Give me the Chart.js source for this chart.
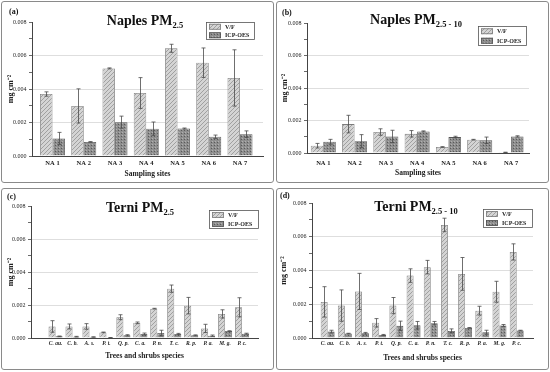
<!DOCTYPE html>
<html>
<head>
<meta charset="utf-8">
<script src="https://cdn.jsdelivr.net/npm/chart.js@4.4.0/dist/chart.umd.min.js"></script>
<style>
    body { margin: 0; background: #fff; width: 550px; height: 372px; overflow: hidden; position: relative; font-family: 'Liberation Serif', serif; }
    .panel { position: absolute; width: 273px; height: 182px; }
    .panel canvas { position: absolute; left: 0; top: 0; }
    .frame { position: absolute; left: 0; top: 0; width: 273px; height: 182px; border: 1px solid #8a8a8a; border-radius: 3px; box-sizing: border-box; pointer-events: none; }
    .tag { position: absolute; font-weight: bold; font-size: 8px; line-height: 1; color: #111; }
    .title { position: absolute; font-weight: bold; font-size: 14px; line-height: 1; white-space: nowrap; transform: translateX(-50%); color: #111; }
    .title sub { font-size: 8.5px; vertical-align: baseline; position: relative; top: 3px; }
</style>
</head>
<body>
<div class="panel" id="pa" style="left:1px;top:1px">
    <canvas id="chartA" width="273" height="182"></canvas>
    <div class="frame"></div>
    <div class="tag" style="left:8px;top:7px">(a)</div>
    <div class="title" style="left:144px;top:13px">Naples PM<sub>2.5</sub></div>
</div>
<div class="panel" id="pb" style="left:276px;top:1px">
    <canvas id="chartB" width="273" height="182"></canvas>
    <div class="frame"></div>
    <div class="tag" style="left:6px;top:8px">(b)</div>
    <div class="title" style="left:140px;top:12px">Naples PM<sub>2.5 - 10</sub></div>
</div>
<div class="panel" id="pc" style="left:1px;top:188px">
    <canvas id="chartC" width="273" height="182"></canvas>
    <div class="frame"></div>
    <div class="tag" style="left:6px;top:5px">(c)</div>
    <div class="title" style="left:139px;top:13px">Terni PM<sub>2.5</sub></div>
</div>
<div class="panel" id="pd" style="left:276px;top:188px">
    <canvas id="chartD" width="273" height="182"></canvas>
    <div class="frame"></div>
    <div class="tag" style="left:4px;top:4px">(d)</div>
    <div class="title" style="left:140px;top:12px">Terni PM<sub>2.5 - 10</sub></div>
</div>

<script>
// categories
const sites = ['NA 1', 'NA 2', 'NA 3', 'NA 4', 'NA 5', 'NA 6', 'NA 7'];
const species = ['C. au.', 'C. b.', 'A. s.', 'P. t.', 'Q. p.', 'C. a.', 'P. n.', 'T. c.', 'R. p.', 'P. a.', 'M. g.', 'P. c.'];
const seriesNames = ['V/F', 'ICP-OES'];
const yTickLabels = ['0.000', '0.002', '0.004', '0.006', '0.008'];

// (a) Naples PM2.5
const naplesFineVF = [0.00370, 0.00299, 0.00523, 0.00376, 0.00643, 0.00557, 0.00466];
const naplesFineVFErr = [0.00013, 0.00102, 0.00003, 0.00092, 0.00024, 0.00088, 0.00168];
const naplesFineICP = [0.00105, 0.00084, 0.00202, 0.00163, 0.00164, 0.00115, 0.00130];
const naplesFineICPErr = [0.00036, 0.00002, 0.00036, 0.00040, 0.00003, 0.00010, 0.00020];

// (b) Naples PM2.5-10
const naplesCoarseVF = [0.00045, 0.00178, 0.00129, 0.00118, 0.00037, 0.00082, 0.00004];
const naplesCoarseVFErr = [0.00014, 0.00054, 0.00020, 0.00020, 0.00002, 0.00002, 0.00001];
const naplesCoarseICP = [0.00069, 0.00073, 0.00102, 0.00133, 0.00098, 0.00078, 0.00102];
const naplesCoarseICPErr = [0.00015, 0.00040, 0.00038, 0.00003, 0.00005, 0.00020, 0.00004];

// (c) Terni PM2.5
const terniFineVF = [0.00070, 0.00070, 0.00070, 0.00034, 0.00126, 0.00092, 0.00178, 0.00299, 0.00196, 0.00058, 0.00146, 0.00186];
const terniFineVFErr = [0.00035, 0.00015, 0.00017, 0.00002, 0.00015, 0.00005, 0.00002, 0.00022, 0.00050, 0.00025, 0.00025, 0.00058];
const terniFineICP = [0.00010, 0.00008, 0.00006, 0.00002, 0.00016, 0.00024, 0.00030, 0.00024, 0.00016, 0.00014, 0.00042, 0.00026];
const terniFineICPErr = [0.00002, 0.00002, 0.00001, 0.00001, 0.00004, 0.00006, 0.00017, 0.00004, 0.00003, 0.00004, 0.00002, 0.00003];

// (d) Terni PM2.5-10
const terniCoarseVF = [0.00214, 0.00192, 0.00276, 0.00090, 0.00192, 0.00370, 0.00420, 0.00670, 0.00380, 0.00162, 0.00274, 0.00510];
const terniCoarseVFErr = [0.00090, 0.00093, 0.00107, 0.00025, 0.00048, 0.00040, 0.00040, 0.00040, 0.00097, 0.00026, 0.00062, 0.00048];
const terniCoarseICP = [0.00038, 0.00026, 0.00028, 0.00018, 0.00072, 0.00076, 0.00088, 0.00042, 0.00060, 0.00034, 0.00074, 0.00044];
const terniCoarseICPErr = [0.00008, 0.00002, 0.00005, 0.00003, 0.00028, 0.00022, 0.00010, 0.00012, 0.00002, 0.00012, 0.00006, 0.00002];

const serif = "'Liberation Serif', serif";

// hatched fill for V/F, stippled fill for ICP-OES
const makeHatch = () => {
    const c = document.createElement('canvas');
    c.width = 4; c.height = 4;
    const g = c.getContext('2d');
    g.fillStyle = '#d4d4d4';
    g.fillRect(0, 0, 4, 4);
    g.strokeStyle = '#9a9a9a';
    g.lineWidth = 0.9;
    g.beginPath();
    g.moveTo(0, 4); g.lineTo(4, 0);
    g.moveTo(-1, 1); g.lineTo(1, -1);
    g.moveTo(3, 5); g.lineTo(5, 3);
    g.stroke();
    return g.createPattern(c, 'repeat');
};
const makeDots = () => {
    const c = document.createElement('canvas');
    c.width = 3; c.height = 3;
    const g = c.getContext('2d');
    g.fillStyle = '#8e8e8e';
    g.fillRect(0, 0, 3, 3);
    g.fillStyle = '#5a5a5a';
    g.fillRect(0, 0, 1, 1);
    g.fillStyle = '#b0b0b0';
    g.fillRect(1, 2, 1, 1);
    return g.createPattern(c, 'repeat');
};
const hatch = makeHatch();
const dots = makeDots();

const errorBarsPlugin = {
    id: 'errorBars',
    afterDatasetsDraw(chart) {
        const { ctx } = chart;
        const yScale = chart.scales.y;
        ctx.save();
        ctx.strokeStyle = '#4a4a4a';
        ctx.lineWidth = 0.8;
        chart.data.datasets.forEach((ds, di) => {
            const meta = chart.getDatasetMeta(di);
            meta.data.forEach((bar, i) => {
                const v = ds.data[i].y;
                const e = ds.errors[i];
                const top = yScale.getPixelForValue(v + e);
                const bot = yScale.getPixelForValue(Math.max(v - e, 0));
                const x = Math.round(bar.x) + 0.5;
                ctx.beginPath();
                ctx.moveTo(x, top); ctx.lineTo(x, bot);
                ctx.moveTo(x - 2, top); ctx.lineTo(x + 2, top);
                ctx.moveTo(x - 2, bot); ctx.lineTo(x + 2, bot);
                ctx.stroke();
            });
        });
        ctx.restore();
    }
};

const boxLegendPlugin = {
    id: 'boxLegend',
    afterDraw(chart, args, opts) {
        const { ctx } = chart;
        const { x, y, w, h } = opts;
        ctx.save();
        ctx.fillStyle = '#fff';
        ctx.fillRect(x, y, w, h);
        ctx.strokeStyle = '#555';
        ctx.lineWidth = 0.8;
        ctx.strokeRect(x + 0.5, y + 0.5, w, h);
        const row = h / 2;
        chart.data.datasets.forEach((ds, i) => {
            const cy = y + row * i + row / 2 + 0.5;
            ctx.fillStyle = ds.backgroundColor;
            ctx.fillRect(x + 3, cy - 3, 12, 6);
            ctx.strokeStyle = ds.borderColor;
            ctx.strokeRect(x + 3.5, cy - 2.5, 11, 5);
            ctx.fillStyle = '#222';
            ctx.font = "bold 6px " + serif;
            ctx.textBaseline = 'middle';
            ctx.fillText(ds.label, x + 19, cy + 0.5);
        });
        ctx.restore();
    }
};

const createPanel = (canvasId, cats, vf, vfErr, icp, icpErr, geo) => {
    const ctx = document.getElementById(canvasId).getContext('2d');
    const toPoints = arr => arr.map((v, i) => ({ x: i, y: v }));
    new Chart(ctx, {
        type: 'bar',
        data: {
            datasets: [{
                label: seriesNames[0],
                data: toPoints(vf),
                errors: vfErr,
                backgroundColor: hatch,
                borderColor: '#7c7c7c',
                borderWidth: 0.8,
                categoryPercentage: geo.catPct,
                barPercentage: 1
            }, {
                label: seriesNames[1],
                data: toPoints(icp),
                errors: icpErr,
                backgroundColor: dots,
                borderColor: '#555',
                borderWidth: 0.8,
                categoryPercentage: geo.catPct,
                barPercentage: 1
            }]
        },
        options: {
            responsive: false,
            animation: false,
            events: [],
            layout: {
                padding: { left: 2, right: 273 - geo.right, top: geo.top, bottom: 2 }
            },
            plugins: {
                legend: { display: false },
                tooltip: { enabled: false },
                boxLegend: geo.legend
            },
            scales: {
                x: {
                    type: 'linear',
                    min: geo.xMin,
                    max: geo.xMax,
                    offset: false,
                    afterBuildTicks: scale => {
                        scale.ticks = cats.map((c, i) => ({ value: i }));
                    },
                    afterFit: scale => { scale.height = 180 - geo.bottom; },
                    ticks: {
                        autoSkip: false,
                        maxRotation: 0,
                        padding: geo.xTickPad,
                        color: '#222',
                        font: { family: serif, size: geo.xTickSize, weight: 'bold', style: geo.italic ? 'italic' : 'normal' },
                        callback: v => cats[v]
                    },
                    grid: { drawOnChartArea: false, drawTicks: false },
                    border: { color: '#444', width: 1 },
                    title: {
                        display: true,
                        text: geo.xTitle,
                        color: '#222',
                        font: { family: serif, size: 7.5, weight: 'bold' },
                        padding: { top: 0, bottom: geo.xTitlePad }
                    }
                },
                y: {
                    min: 0,
                    max: 0.008,
                    afterFit: scale => { scale.width = geo.left - 2; },
                    ticks: {
                        stepSize: 0.001,
                        padding: 2.5,
                        color: '#222',
                        font: { family: serif, size: 6 },
                        callback: v => {
                            const k = Math.round(v * 1000);
                            return k % 2 === 0 ? yTickLabels[k / 2] : '';
                        }
                    },
                    grid: {
                        color: c => {
                            const k = Math.round(c.tick.value * 1000);
                            return (k === 2 || k === 4 || k === 6) ? '#d6d6d6' : 'rgba(0,0,0,0)';
                        },
                        tickColor: '#444',
                        tickLength: 3,
                        lineWidth: 0.8
                    },
                    border: { color: '#444', width: 1 },
                    title: {
                        display: true,
                        text: 'mg cm\u207B\u00B2',
                        color: '#222',
                        font: { family: serif, size: 8, weight: 'bold' },
                        padding: { top: geo.yTitlePad, bottom: 0 }
                    }
                }
            }
        },
        plugins: [errorBarsPlugin, boxLegendPlugin]
    });
};

document.addEventListener('DOMContentLoaded', () => {
    createPanel('chartA', sites, naplesFineVF, naplesFineVFErr, naplesFineICP, naplesFineICPErr, {
        left: 31, right: 262, top: 21, bottom: 155, xMin: -0.656, xMax: 6.736, catPct: 0.8,
        xTickPad: 3, xTickSize: 6.5, italic: false, xTitle: 'Sampling sites', xTitlePad: 2.5, yTitlePad: 3.5,
        legend: { x: 205, y: 21, w: 48, h: 17 }
    });
    createPanel('chartB', sites, naplesCoarseVF, naplesCoarseVFErr, naplesCoarseICP, naplesCoarseICPErr, {
        left: 31, right: 253, top: 22, bottom: 152, xMin: -0.52, xMax: 6.575, catPct: 0.8,
        xTickPad: 6, xTickSize: 6.5, italic: false, xTitle: 'Sampling sites', xTitlePad: 3.8, yTitlePad: 2,
        legend: { x: 202, y: 25, w: 48, h: 19 }
    });
    createPanel('chartC', species, terniFineVF, terniFineVFErr, terniFineICP, terniFineICPErr, {
        left: 30, right: 257, top: 18, bottom: 150, xMin: -1.45, xMax: 11.94, catPct: 0.83,
        xTickPad: 2, xTickSize: 5.5, italic: true, xTitle: 'Trees and shrubs species', xTitlePad: 7.5, yTitlePad: 3,
        legend: { x: 208, y: 22, w: 49, h: 18 }
    });
    createPanel('chartD', species, terniCoarseVF, terniCoarseVFErr, terniCoarseICP, terniCoarseICPErr, {
        left: 36, right: 257, top: 15, bottom: 150, xMin: -0.91, xMax: 11.95, catPct: 0.81,
        xTickPad: 2.5, xTickSize: 5.5, italic: true, xTitle: 'Trees and shrubs species', xTitlePad: 5.8, yTitlePad: 1.5,
        legend: { x: 207, y: 21, w: 49, h: 18 }
    });
});
</script>
</body>
</html>
